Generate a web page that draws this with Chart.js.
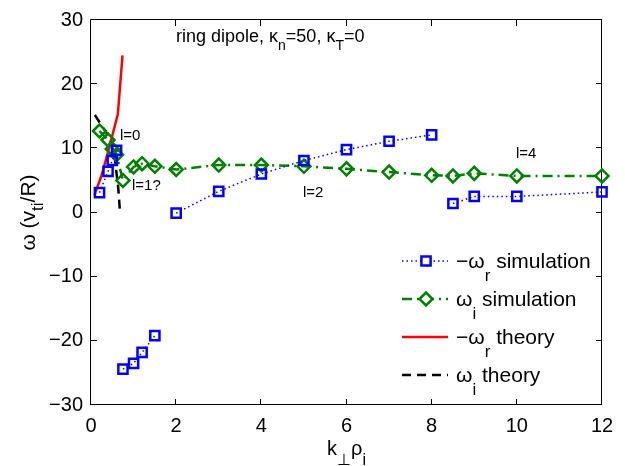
<!DOCTYPE html>
<html>
<head>
<meta charset="utf-8">
<script src="https://cdn.jsdelivr.net/npm/chart.js@4.4.0/dist/chart.umd.min.js"></script>
<style>
  html, body { margin: 0; padding: 0; background: #ffffff; }
  #wrap { width: 625px; height: 466px; }
</style>
</head>
<body>
<div id="wrap"><canvas id="c" width="625" height="466"></canvas></div>
<script>
// ---- data: growth rates vs k_perp rho_i ----
// -omega_r from simulation, split into its separate mode branches
const kRealA = [0.2, 0.4, 0.5, 0.6];
const wRealA = [3.1, 6.4, 8.1, 9.7];
const kRealB = [0.75, 1.0, 1.2, 1.5];
const wRealB = [-24.4, -23.5, -21.8, -19.2];
const kRealC = [2, 3, 4, 5, 6, 7, 8];
const wRealC = [-0.1, 3.3, 6.0, 8.1, 9.8, 11.1, 12.1];
const kRealD = [8.5, 9, 10, 12];
const wRealD = [1.4, 2.5, 2.5, 3.2];

// omega_i from simulation
const kImag = [0.2, 0.4, 0.5, 0.6, 0.75, 1.0, 1.2, 1.5, 2, 3, 4, 5, 6, 7, 8, 8.5, 9, 10, 12];
const wImag = [12.7, 11.3, 9.9, 9.0, 5.0, 7.1, 7.6, 7.2, 6.7, 7.4, 7.4, 7.2, 6.8, 6.3, 5.8, 5.7, 6.1, 5.7, 5.7];

// theory curves
const kTheoryR = [0.08, 0.25, 0.45, 0.63, 0.74];
const wTheoryR = [2.7, 5.8, 10.7, 15.3, 24.5];
const kTheoryI = [0.09, 0.45, 0.56, 0.64, 0.68];
const wTheoryI = [15.2, 11.5, 8.4, 3.8, 0.2];

// axis ticks
const xTickValues = [0, 2, 4, 6, 8, 10, 12];
const yTickValues = [-30, -20, -10, 0, 10, 20, 30];

// ---- styling ----
const FONT = '"Liberation Sans", Arial, Helvetica, sans-serif';
const BLUE = '#0000ff';
const GREEN = '#008000';
const RED = '#ff0000';
const BLACK = '#000000';

const pts = (xs, ys) => xs.map((x, i) => ({ x: x, y: ys[i] }));

const simRealStyle = {
  showLine: true, borderColor: BLUE, backgroundColor: 'rgba(0,0,0,0)',
  borderWidth: 1.5, borderDash: [1.5, 3],
  pointStyle: 'rect', pointRadius: 6.5, pointBorderWidth: 2.5,
  pointBorderColor: BLUE, pointBackgroundColor: 'rgba(0,0,0,0)',
  pointHoverRadius: 6.5, clip: false
};
const simImagStyle = {
  showLine: true, borderColor: GREEN, backgroundColor: 'rgba(0,0,0,0)',
  borderWidth: 2.5, borderDash: [10, 5, 2, 5],
  pointStyle: 'rectRot', pointRadius: 6.5, pointBorderWidth: 2.5,
  pointBorderColor: GREEN, pointBackgroundColor: 'rgba(0,0,0,0)',
  pointHoverRadius: 6.5, clip: false
};
const theoryRStyle = {
  showLine: true, borderColor: RED, borderWidth: 2.5, pointRadius: 0, clip: false
};
const theoryIStyle = {
  showLine: true, borderColor: BLACK, borderWidth: 2.5, borderDash: [9, 6], pointRadius: 0, clip: false
};

// ---- text with subscripts ----
function richWidth(ctx, parts, size) {
  let w = 0;
  for (const p of parts) {
    ctx.font = (p[1] ? Math.round(size * 0.8) : size) + 'px ' + FONT;
    w += ctx.measureText(p[0]).width;
  }
  return w;
}
function drawRich(ctx, parts, x, y, size, shift, align) {
  const total = richWidth(ctx, parts, size);
  let cx = align === 'center' ? x - total / 2 : x;
  ctx.textBaseline = 'alphabetic';
  ctx.textAlign = 'left';
  ctx.fillStyle = BLACK;
  for (const p of parts) {
    const s = p[1] ? Math.round(size * 0.8) : size;
    ctx.font = s + 'px ' + FONT;
    ctx.fillText(p[0], cx, p[1] ? y + shift * size : y);
    cx += ctx.measureText(p[0]).width;
  }
}

const legendItems = [
  { style: simRealStyle, marker: 'rect', text: [['\u2212\u03c9'], ['r', 1], [' simulation']] },
  { style: simImagStyle, marker: 'rectRot', text: [['\u03c9'], ['i', 1], [' simulation']] },
  { style: theoryRStyle, marker: null, text: [['\u2212\u03c9'], ['r', 1], [' theory']] },
  { style: theoryIStyle, marker: null, text: [['\u03c9'], ['i', 1], [' theory']] }
];

const decor = {
  id: 'decor',
  beforeDatasetsDraw(chart) {
    const { ctx, chartArea: a, scales } = chart;
    ctx.save();
    ctx.strokeStyle = BLACK;
    ctx.lineWidth = 1;
    ctx.beginPath();
    ctx.rect(a.left - 0.5, a.top - 0.5, a.right - a.left, a.bottom - a.top);
    const tl = 6;
    for (const v of xTickValues) {
      const px = Math.round(scales.x.getPixelForValue(v)) - 0.5;
      ctx.moveTo(px, a.bottom); ctx.lineTo(px, a.bottom - tl);
      ctx.moveTo(px, a.top); ctx.lineTo(px, a.top + tl);
    }
    for (const v of yTickValues) {
      const py = Math.round(scales.y.getPixelForValue(v)) - 0.5;
      ctx.moveTo(a.left, py); ctx.lineTo(a.left + tl, py);
      ctx.moveTo(a.right, py); ctx.lineTo(a.right - tl, py);
    }
    ctx.stroke();
    ctx.restore();
  },
  afterDraw(chart) {
    const { ctx, chartArea: a } = chart;
    ctx.save();
    // annotations inside the axes
    drawRich(ctx, [['ring dipole, \u03ba'], ['n', 1], ['=50, \u03ba'], ['T', 1], ['=0']], 176, 42, 18, 0.45, 'left');
    drawRich(ctx, [['l=0']], 120, 140, 15, 0, 'left');
    drawRich(ctx, [['l=1?']], 132, 190, 15, 0, 'left');
    drawRich(ctx, [['l=2']], 303, 197, 15, 0, 'left');
    drawRich(ctx, [['l=4']], 516, 158, 15, 0, 'left');

    // axis titles
    drawRich(ctx, [['k'], ['\u22a5', 1], ['\u03c1'], ['i', 1]], (a.left + a.right) / 2, 455, 20, 0.5, 'center');
    ctx.save();
    ctx.translate(35, (a.top + a.bottom) / 2);
    ctx.rotate(-Math.PI / 2);
    drawRich(ctx, [['\u03c9 (v'], ['ti', 1], ['/R)']], 0, 0, 21, 0.4, 'center');
    ctx.restore();

    // legend
    const rows = [261, 299, 337, 375];
    const x0 = 402, x1 = 448, xm = 426, xt = 456;
    legendItems.forEach((it, i) => {
      const y = rows[i];
      const st = it.style;
      ctx.save();
      ctx.strokeStyle = st.borderColor;
      ctx.lineWidth = st.borderWidth;
      ctx.setLineDash(st.borderDash || []);
      ctx.beginPath();
      ctx.moveTo(x0, y); ctx.lineTo(x1, y);
      ctx.stroke();
      ctx.restore();
      if (it.marker) {
        ctx.save();
        ctx.strokeStyle = st.pointBorderColor;
        ctx.fillStyle = '#ffffff';
        ctx.lineWidth = st.pointBorderWidth;
        Chart.helpers.drawPoint(ctx, {
          pointStyle: it.marker, radius: st.pointRadius, rotation: 0, borderWidth: st.pointBorderWidth
        }, xm, y);
        ctx.restore();
      }
      drawRich(ctx, it.text, xt, y + 7, 21, 0.6, 'left');
    });
    ctx.restore();
  }
};

new Chart(document.getElementById('c'), {
  type: 'scatter',
  data: {
    datasets: [
      Object.assign({ label: '-wr sim A', data: pts(kRealA, wRealA) }, simRealStyle),
      Object.assign({ label: '-wr sim B', data: pts(kRealB, wRealB) }, simRealStyle),
      Object.assign({ label: '-wr sim C', data: pts(kRealC, wRealC) }, simRealStyle),
      Object.assign({ label: '-wr sim D', data: pts(kRealD, wRealD) }, simRealStyle),
      Object.assign({ label: 'wi sim', data: pts(kImag, wImag) }, simImagStyle),
      Object.assign({ label: '-wr theory', data: pts(kTheoryR, wTheoryR) }, theoryRStyle),
      Object.assign({ label: 'wi theory', data: pts(kTheoryI, wTheoryI) }, theoryIStyle)
    ]
  },
  options: {
    responsive: false,
    animation: false,
    events: [],
    layout: { padding: { left: 0, right: 23, top: 17, bottom: 0 } },
    plugins: { legend: { display: false }, tooltip: { enabled: false }, title: { display: false } },
    scales: {
      x: {
        type: 'linear', min: 0, max: 12,
        afterBuildTicks: s => { s.ticks = xTickValues.map(v => ({ value: v })); },
        afterFit: s => { s.height = 61; },
        grid: { display: false, drawTicks: false },
        border: { display: false },
        ticks: { color: BLACK, padding: 9, maxRotation: 0, autoSkip: false,
                 font: { family: FONT, size: 20 } }
      },
      y: {
        type: 'linear', min: -30, max: 30,
        afterBuildTicks: s => { s.ticks = yTickValues.map(v => ({ value: v })); },
        afterFit: s => { s.width = 91; },
        grid: { display: false, drawTicks: false },
        border: { display: false },
        ticks: { color: BLACK, padding: 8, autoSkip: false,
                 font: { family: FONT, size: 20 },
                 callback: v => (v < 0 ? '\u2212' + Math.abs(v) : String(v)) }
      }
    }
  },
  plugins: [decor]
});
</script>
</body>
</html>
